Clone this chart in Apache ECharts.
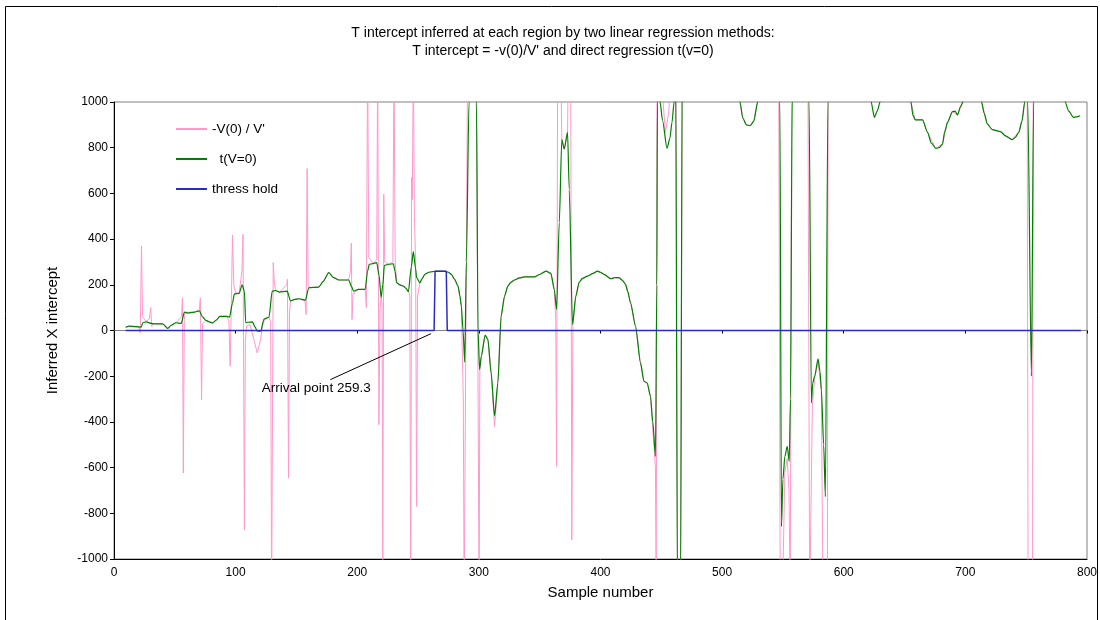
<!DOCTYPE html>
<html>
<head>
<meta charset="utf-8">
<title>T intercept</title>
<script src="https://cdn.jsdelivr.net/npm/echarts@6/dist/echarts.min.js"></script>
<style>
  html, body { margin: 0; padding: 0; background: #fff; }
  #main { width: 1100px; height: 620px; }
</style>
</head>
<body>
<div id="main"></div>
<script>
// values: [sample number, inferred intercept]
// points outside +-1000 are cut off by the plot, like in the original
var ratioSeries = [
  [9.6, 14], [12.8, 19], [20.5, 15], [21.6, -10], [22.6, 370], [23.5, 60], [26.5, 40], [29, 50],
  [30.2, 100], [31, 17], [32, 30], [40.1, 29], [44.2, 9], [47, 23], [51, 34], [55.5, 60],
  [56.3, 143], [57, -624], [57.8, 50], [58.5, 80], [66, 80], [70.1, 90], [71, 143], [72, -303],
  [72.8, 30], [75.6, 44], [78.3, 38], [81, 33], [84, 45], [87, 62], [93, 62], [94.5, 40],
  [95.5, -156], [96.3, 60], [97.4, 417], [98.5, 200], [100, 165], [102.9, 165], [105.2, 260],
  [106.1, 421], [107.2, -873], [108, -50], [109, 20], [112, 25], [115, -40], [117.8, -98],
  [120.5, -40], [122, 20], [124, 50], [127.4, 58], [128.8, 40], [129.6, -1200], [130.9, 297],
  [132, 200], [132.9, 175], [136, 168], [142, 200], [142.6, 224], [143.5, -646], [144.3, 80],
  [145.2, 129], [148, 135], [152, 139], [157, 130], [158, 70], [158.8, 709], [159.6, 200],
  [160.5, 187], [168.3, 190], [172, 215], [176.5, 253], [180.6, 231], [184.7, 221], [192.9, 221],
  [194.5, 260], [195.1, 382], [195.7, 48], [196.5, 160], [201, 180], [206.5, 180], [207.5, 100],
  [208.5, 1200], [209.5, 320], [213, 293], [216, 310], [216.8, 1200], [217.8, -412], [218.8, 100],
  [219.6, 143], [220.4, 120], [221, -1050], [221.8, 596], [222.6, 300], [226, 290], [229.3, 300],
  [230.2, 1200], [231.2, 300], [232.4, 209], [237.9, 194], [242, 175], [243.2, 150], [244, -1200],
  [244.7, 670], [245.3, 573], [246.1, 1200], [247, 500], [248, 300], [248.8, -770], [249.6, 150],
  [251.5, 209], [255.6, 246], [259, 255], [263.8, 259], [272, 259], [277.4, 246], [282.9, 194],
  [285.6, 107], [287.2, -300], [287.9, -1200], [290.8, 1200], [298, 1200], [300.2, -1200],
  [300.8, -171], [302, -113], [305.2, -20], [307.4, -39], [310.1, -186], [312.9, -420],
  [315.6, -230], [318.3, 63], [321.1, 150], [323.8, 194], [329.3, 221], [337.5, 235], [345.7, 235],
  [355.2, 260], [359.2, 250], [362, 180], [363.2, 50], [363.9, -595], [364.8, 1200], [367.3, 1200],
  [368.2, 835], [370.2, 794], [372.9, 867], [373.6, 1200], [375.5, 1200], [376.4, -917],
  [377.3, 26], [379.7, 150], [382.5, 212], [389.3, 238], [397.5, 260], [402.9, 246], [408.3, 227],
  [415.2, 231], [420.6, 202], [424.7, 121], [428.8, 19], [432.9, -142], [435.7, -222],
  [438.4, -230], [441.1, -288], [445.2, -600], [445.8, -1200], [446.5, 1200], [450, 1100],
  [453.4, 867], [456, 950], [458, 1100], [462, 1200], [463.3, -1200], [465.8, -1200],
  [467.2, 1200], [512, 1150], [514.7, 1000], [517, 930], [520, 900], [522.9, 896], [526, 915],
  [529.2, 1000], [531, 1150], [546.5, 1200], [547.8, -1200], [549.5, -1200], [551.6, -620],
  [553.5, -560], [555, -700], [556, -1200], [557.3, 1200], [570.5, 1200], [572, -1200],
  [573.6, -1200], [574.2, -330], [576.1, -210], [578.9, -135], [581.6, -270], [583, -1200],
  [586.5, -1200], [587.2, 1200], [654, 1150], [655.2, 1000], [658.8, 922], [664.8, 922],
  [668.9, 867], [675.7, 797], [681.2, 816], [685.3, 911], [689.4, 958], [693.5, 943], [698, 1000],
  [699, 1150], [712.5, 1150], [713.3, 1000], [718, 904], [722.1, 879], [728.9, 870], [733, 852],
  [738.4, 835], [743.9, 867], [746.6, 918], [748.8, 1000], [750.8, 1200], [751.6, -1200],
  [755.2, -1200], [755.8, 1200], [795, 1200]
];

var zeroSeries = [
  [9.6, 14], [12.8, 19], [22.4, 15], [23.7, 34], [26.5, 38], [30.6, 31], [33.3, 29], [40.1, 29],
  [44.2, 9], [47, 23], [51, 34], [55.2, 31], [57.9, 80], [60.6, 76], [66, 80], [70.1, 86],
  [72.8, 60], [75.6, 44], [78.3, 38], [81, 33], [84, 45], [87, 62], [93, 62], [95, 58],
  [97.4, 120], [99, 160], [102.9, 162], [105.3, 200], [107.2, 172], [108.3, 34], [110, 36],
  [113.8, 38], [116, 15], [117.8, -3], [120.6, -3], [123.3, 50], [127.4, 58], [130.1, 172],
  [132.9, 175], [136, 168], [142.4, 172], [145.2, 129], [148, 135], [152, 139], [157.4, 133],
  [160.1, 187], [168.3, 190], [172, 215], [176.5, 253], [180.6, 231], [184.7, 221], [192.9, 221],
  [195.5, 190], [197, 172], [201, 180], [206.5, 180], [208.5, 260], [209.8, 289], [213, 293],
  [216, 297], [218, 240], [219.6, 143], [221, 200], [222.3, 285], [226, 290], [229.7, 292],
  [231, 260], [232.4, 209], [235, 200], [237.9, 194], [240, 185], [242, 170], [244.5, 280],
  [246.1, 345], [248, 270], [248.8, 231], [251.5, 209], [253, 225], [255.6, 246], [259, 255],
  [263.8, 259], [272, 259], [275, 255], [277.4, 246], [280, 225], [282.9, 194], [284.5, 150],
  [285.6, 107], [287, 0], [288.4, -139], [289.7, 300], [291.9, 1000], [293, 1400], [297, 1400],
  [298, 1000], [299.3, 0], [300.6, -171], [302, -113], [305.2, -20], [307.4, -39], [310.1, -186],
  [312.9, -373], [315.6, -230], [318.3, 63], [321.1, 150], [323.8, 194], [326, 210], [329.3, 221],
  [333, 230], [337.5, 235], [345.7, 235], [350, 245], [355.2, 260], [359.2, 250], [362, 180],
  [363.9, 92], [366.1, 472], [368.2, 835], [370.2, 794], [372.9, 867], [374.3, 618], [377, 26],
  [379.7, 150], [382.5, 212], [385, 228], [389.3, 238], [394, 250], [397.5, 260], [400, 255],
  [402.9, 246], [408.3, 227], [412, 232], [415.2, 231], [418, 220], [420.6, 202], [422.5, 170],
  [424.7, 121], [428.8, 19], [432.9, -142], [435.7, -222], [438.4, -230], [441.1, -288],
  [443, -400], [445.2, -551], [446.3, 200], [446.8, 1000], [447.8, 1100], [449, 1000], [451, 920],
  [454.7, 797], [457, 840], [458.8, 911], [460.5, 1000], [461.8, 1150], [463.3, -1150],
  [465.8, -1150], [467.2, 1150], [512, 1150], [514.7, 1000], [517, 930], [520, 900], [522.9, 896],
  [526, 915], [529.2, 1000], [531, 1150], [546.5, 1150], [547.5, 1000], [548.8, -858],
  [550, -650], [551.6, -551], [553.5, -507], [555.2, -573], [556.2, -300], [557.6, 1000],
  [558.5, 1150], [570.5, 1150], [571.5, 1000], [573.4, -317], [574.5, -230], [576.1, -200],
  [578.9, -124], [580.5, -180], [581.6, -259], [583.5, -500], [584.9, -727], [587, 1000],
  [588, 1150], [621.5, 1150], [622.5, 1000], [625.2, 933], [627.5, 960], [629.9, 1000],
  [631, 1150], [654, 1150], [655.2, 1000], [657, 940], [658.8, 922], [664.8, 922], [668.9, 867],
  [672, 820], [675.7, 797], [678.5, 800], [681.2, 816], [683, 870], [685.3, 911], [689.4, 958],
  [691.5, 960], [693.5, 943], [696, 980], [698, 1000], [699, 1150], [712.5, 1150], [713.3, 1000],
  [715.5, 950], [718, 904], [722.1, 879], [728.9, 870], [733, 852], [738.4, 835], [741, 845],
  [743.9, 867], [746.6, 918], [748.8, 1000], [750, 1150], [751, 1150], [751.3, 1000],
  [754.3, -200], [756.1, 1000], [757, 1150], [781, 1150], [782, 1000], [785, 960], [788.9, 933],
  [791, 935], [794.4, 940]
];

var thresholdSeries = [
  [9.6, 0], [263.2, 0], [264, 259], [273.2, 259], [274, 0], [795, 0]
];

var seriesNames = ['-V(0) / V\'', 't(V=0)', 'thress hold'];
var yTicks = { min: -1000, max: 1000, step: 200 };
var xTicks = { min: 0, max: 800, step: 100 };

// annotation: text position and arrow, in data units
var arrivalText = 'Arrival point 259.3';
var arrivalTextAt = [166.3, -254];
var arrivalArrow = [[177.9, -215], [260.6, -14]];

var chartDom = document.getElementById('main');
var myChart = echarts.init(chartDom, null, { renderer: 'canvas' });
var font = 'Arial, "Liberation Sans", sans-serif';

var option = {
  animation: false,
  backgroundColor: '#fff',
  textStyle: { fontFamily: font, color: '#000' },
  title: {
    text: 'T intercept inferred at each region by two linear regression methods:\nT intercept = -v(0)/V\' and direct regression t(v=0)',
    left: 558,
    top: 19,
    textAlign: 'center',
    textStyle: { fontSize: 14, fontWeight: 'normal', color: '#000', lineHeight: 18, fontFamily: font }
  },
  graphic: [{
    type: 'rect',
    shape: { x: 5.5, y: 6.5, width: 1092, height: 640 },
    style: { fill: 'none', stroke: '#000', lineWidth: 1 },
    silent: true
  }],
  legend: {
    orient: 'vertical',
    left: 170,
    top: 117,
    itemWidth: 31,
    itemHeight: 14,
    itemGap: 16,
    data: seriesNames,
    itemStyle: { opacity: 0 },
    textStyle: { fontSize: 13.5, color: '#000', fontFamily: font },
    formatter: function (n) { return n === 't(V=0)' ? '  ' + n : n; }
  },
  grid: {
    left: 114,
    right: 9,
    top: 102,
    bottom: 61,
    show: true,
    borderColor: '#808080',
    borderWidth: 1,
    backgroundColor: '#fff'
  },
  xAxis: [{
    type: 'value',
    min: xTicks.min,
    max: xTicks.max,
    interval: xTicks.step,
    axisLine: { onZero: true, lineStyle: { color: '#808080', width: 1 } },
    axisTick: { show: true, length: 3, lineStyle: { color: '#000' } },
    axisLabel: { fontSize: 12, color: '#000', margin: 8, fontFamily: font },
    splitLine: { show: false }
  }, {
    type: 'value',
    min: xTicks.min,
    max: xTicks.max,
    position: 'bottom',
    name: 'Sample number',
    nameLocation: 'middle',
    nameGap: 26,
    nameTextStyle: { fontSize: 15, color: '#000', fontFamily: font },
    axisLine: { onZero: false, lineStyle: { color: '#000', width: 1 } },
    axisTick: { show: false },
    axisLabel: { show: false },
    splitLine: { show: false }
  }],
  yAxis: {
    type: 'value',
    min: yTicks.min,
    max: yTicks.max,
    interval: yTicks.step,
    name: 'Inferred X intercept',
    nameLocation: 'middle',
    nameGap: 54,
    nameRotate: 90,
    nameTextStyle: { fontSize: 15, color: '#000', fontFamily: font },
    axisLine: { show: true, onZero: false, lineStyle: { color: '#000', width: 1 } },
    axisTick: { show: true, length: 4, lineStyle: { color: '#000' } },
    axisLabel: {
      fontSize: 12, color: '#000', margin: 6, fontFamily: font,
      formatter: function (v) { return String(v); }
    },
    splitLine: { show: false }
  },
  series: [
    {
      name: seriesNames[0],
      type: 'line',
      data: ratioSeries,
      symbol: 'none',
      clip: true,
      lineStyle: { color: '#ff99cc', width: 1 },
      itemStyle: { color: '#ff99cc' }
    },
    {
      name: seriesNames[1],
      type: 'line',
      data: zeroSeries,
      symbol: 'none',
      clip: true,
      smooth: 0.25,
      smoothMonotone: 'x',
      lineStyle: { color: '#008000', width: 1.2 },
      itemStyle: { color: '#008000' }
    },
    {
      name: seriesNames[2],
      type: 'line',
      data: thresholdSeries,
      symbol: 'none',
      clip: true,
      lineStyle: { color: '#2b2bc4', width: 1.5 },
      itemStyle: { color: '#5a5aff' },
      markLine: {
        silent: true,
        symbol: ['none', 'arrow'],
        symbolSize: [0, 8],
        label: { show: false },
        lineStyle: { color: '#000', width: 1, type: 'solid' },
        data: [[{ coord: arrivalArrow[0] }, { coord: arrivalArrow[1] }]]
      },
      markPoint: {
        silent: true,
        symbol: 'rect',
        symbolSize: 1,
        itemStyle: { color: 'rgba(0,0,0,0)' },
        label: {
          show: true,
          position: 'inside',
          formatter: arrivalText,
          fontSize: 13.5,
          color: '#000',
          fontFamily: font
        },
        data: [{ coord: arrivalTextAt }]
      }
    }
  ]
};

option && myChart.setOption(option);
</script>
</body>
</html>
